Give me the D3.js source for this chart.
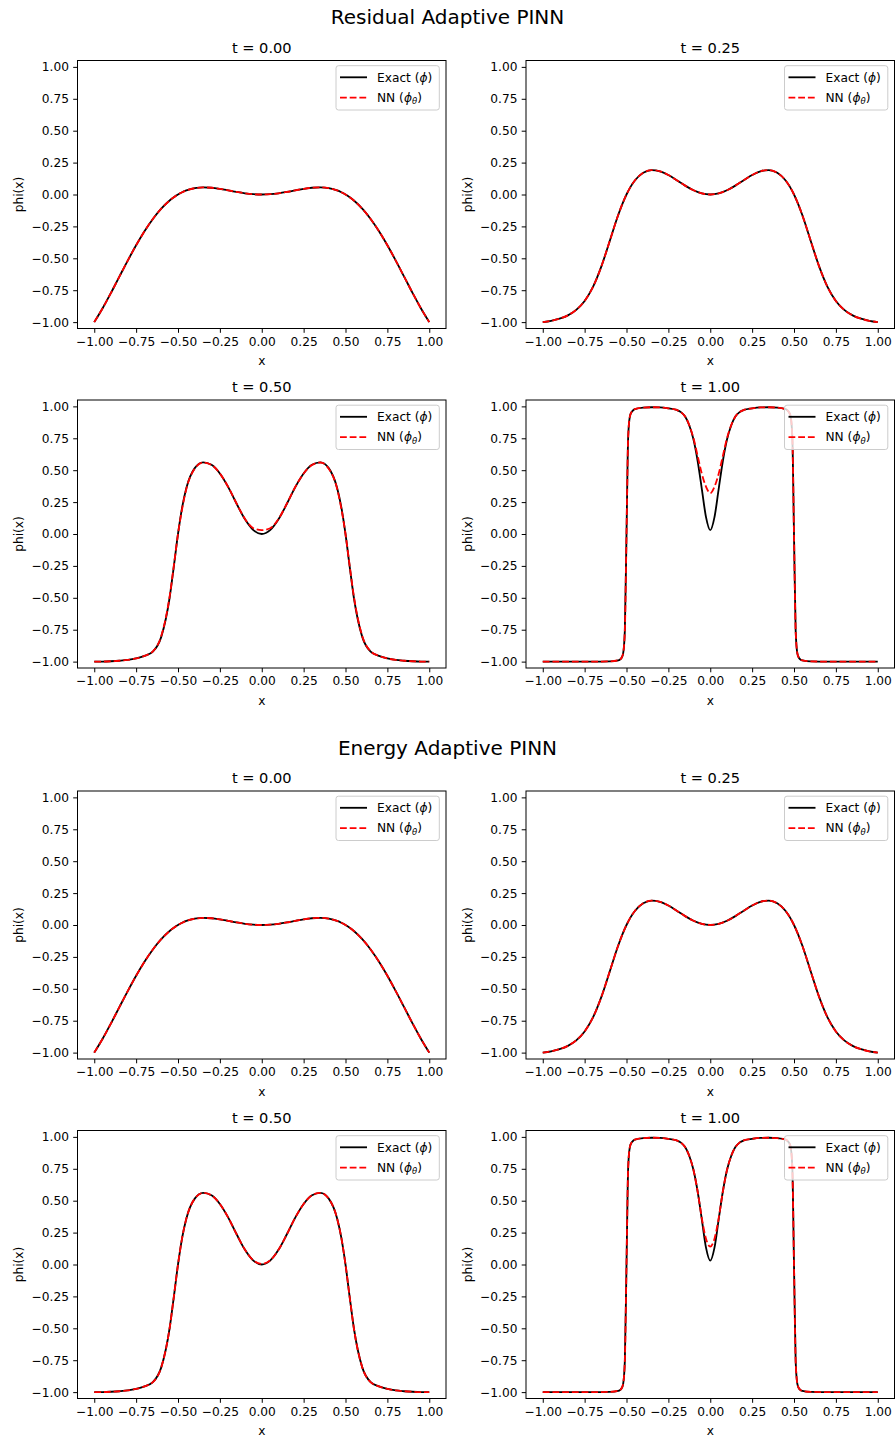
<!DOCTYPE html>
<html>
<head>
<meta charset="utf-8">
<script src="https://cdn.jsdelivr.net/npm/d3@7"></script>
<style>
  body { margin: 0; background: #fff; }
  text { font-family: "DejaVu Sans", sans-serif; fill: #000; }
</style>
</head>
<body>
<div id="chart"></div>
<script>
// ---- data ----
const figureTitles = ["Residual Adaptive PINN", "Energy Adaptive PINN"];
const timeLabels = ["t = 0.00", "t = 0.25", "t = 0.50", "t = 1.00"];
const legendLabels = ["Exact", "NN"];
const xTicks = [-1, -0.75, -0.5, -0.25, 0, 0.25, 0.5, 0.75, 1];
const yTicks = [-1, -0.75, -0.5, -0.25, 0, 0.25, 0.5, 0.75, 1];

const xSmooth = [-1, -0.95, -0.9, -0.85, -0.8, -0.75, -0.7, -0.65, -0.6, -0.55, -0.525, -0.5, -0.475, -0.45, -0.4, -0.35, -0.3, -0.25, -0.2, -0.15, -0.1, -0.05,
  0, 0.05, 0.1, 0.15, 0.2, 0.25, 0.3, 0.35, 0.4, 0.45, 0.475, 0.5, 0.525, 0.55, 0.6, 0.65, 0.7, 0.75, 0.8, 0.85, 0.9, 0.95, 1];

const exactT000 = [-1, -0.8914, -0.7704, -0.6437, -0.5178, -0.3977, -0.288, -0.1918, -0.1112, -0.0473, -0.0216, 0, 0.0177, 0.0317, 0.0494, 0.0556, 0.0529, 0.0442, 0.0324, 0.020, 0.0095, 0.0025,
  0, 0.0025, 0.0095, 0.020, 0.0324, 0.0442, 0.0529, 0.0556, 0.0494, 0.0317, 0.0177, 0, -0.0216, -0.0473, -0.1112, -0.1918, -0.288, -0.3977, -0.5178, -0.6437, -0.7704, -0.8914, -1];

const exactT025 = [-1, -0.9896, -0.973, -0.9467, -0.904, -0.834, -0.724, -0.5635, -0.3638, -0.1631, -0.0755, 0, 0.0618, 0.11, 0.1701, 0.1908, 0.1818, 0.1526, 0.1124, 0.0696, 0.0332, 0.0086,
  0, 0.0086, 0.0332, 0.0696, 0.1124, 0.1526, 0.1818, 0.1908, 0.1701, 0.11, 0.0618, 0, -0.0755, -0.1631, -0.3638, -0.5635, -0.724, -0.834, -0.904, -0.9467, -0.973, -0.9896, -1];

const exactT050 = [-1, -0.9995, -0.997, -0.993, -0.987, -0.975, -0.955, -0.9218, -0.806, -0.4996, -0.2548, 0, 0.2109, 0.3603, 0.516, 0.5613, 0.5421, 0.4744, 0.3673, 0.2367, 0.1149, 0.0301,
  0, 0.0301, 0.1149, 0.2367, 0.3673, 0.4744, 0.5421, 0.5613, 0.516, 0.3603, 0.2109, 0, -0.2548, -0.4996, -0.806, -0.9218, -0.955, -0.975, -0.987, -0.993, -0.997, -0.9995, -1];

const residualNnT050 = [-1, -0.9995, -0.997, -0.993, -0.987, -0.975, -0.955, -0.92, -0.8, -0.49, -0.25, 0, 0.2, 0.355, 0.512, 0.56, 0.541, 0.474, 0.368, 0.238, 0.118, 0.045,
  0.03, 0.045, 0.118, 0.238, 0.368, 0.474, 0.541, 0.56, 0.512, 0.355, 0.2, 0, -0.25, -0.49, -0.8, -0.92, -0.955, -0.975, -0.987, -0.993, -0.997, -0.9995, -1];

const energyNnT050 = [-1, -0.9995, -0.997, -0.993, -0.987, -0.975, -0.955, -0.9218, -0.806, -0.4996, -0.2548, 0, 0.2109, 0.3603, 0.516, 0.5613, 0.5421, 0.4744, 0.3673, 0.2367, 0.1149, 0.032,
  0.005, 0.032, 0.1149, 0.2367, 0.3673, 0.4744, 0.5421, 0.5613, 0.516, 0.3603, 0.2109, 0, -0.2548, -0.4996, -0.806, -0.9218, -0.955, -0.975, -0.987, -0.993, -0.997, -0.9995, -1];

const xSharp = [-1, -0.9, -0.8, -0.7, -0.6, -0.55, -0.54, -0.53, -0.52, -0.51, -0.5, -0.49, -0.48, -0.47, -0.46, -0.45, -0.4, -0.35, -0.3, -0.25, -0.2, -0.175, -0.15, -0.125, -0.1, -0.075, -0.05, -0.025,
  0, 0.025, 0.05, 0.075, 0.1, 0.125, 0.15, 0.175, 0.2, 0.25, 0.3, 0.35, 0.4, 0.45, 0.46, 0.47, 0.48, 0.49, 0.5, 0.51, 0.52, 0.53, 0.54, 0.55, 0.6, 0.7, 0.8, 0.9, 1];

const exactT100 = [-1, -1, -1, -1, -0.998, -0.99, -0.985, -0.972, -0.935, -0.76, 0, 0.76, 0.92, 0.955, 0.97, 0.978, 0.99, 0.993, 0.992, 0.985, 0.972, 0.955, 0.92, 0.85, 0.74, 0.57, 0.35, 0.13,
  0.03, 0.13, 0.35, 0.57, 0.74, 0.85, 0.92, 0.955, 0.972, 0.985, 0.992, 0.993, 0.99, 0.978, 0.97, 0.955, 0.92, 0.76, 0, -0.76, -0.935, -0.972, -0.985, -0.99, -0.998, -1, -1, -1, -1];

const residualNnT100 = [-1, -1, -1, -1, -0.998, -0.99, -0.985, -0.972, -0.935, -0.76, 0, 0.76, 0.92, 0.955, 0.97, 0.978, 0.99, 0.993, 0.992, 0.985, 0.972, 0.955, 0.92, 0.852, 0.75, 0.61, 0.47, 0.37,
  0.32, 0.37, 0.47, 0.61, 0.75, 0.852, 0.92, 0.955, 0.972, 0.985, 0.992, 0.993, 0.99, 0.978, 0.97, 0.955, 0.92, 0.76, 0, -0.76, -0.935, -0.972, -0.985, -0.99, -0.998, -1, -1, -1, -1];

const energyNnT100 = [-1, -1, -1, -1, -0.998, -0.99, -0.985, -0.972, -0.935, -0.76, 0, 0.76, 0.92, 0.955, 0.97, 0.978, 0.99, 0.993, 0.992, 0.985, 0.972, 0.955, 0.92, 0.85, 0.74, 0.57, 0.36, 0.2,
  0.14, 0.2, 0.36, 0.57, 0.74, 0.85, 0.92, 0.955, 0.972, 0.985, 0.992, 0.993, 0.99, 0.978, 0.97, 0.955, 0.92, 0.76, 0, -0.76, -0.935, -0.972, -0.985, -0.99, -0.998, -1, -1, -1, -1];

// one entry per panel: [x grid, exact, residual NN, energy NN]
const panels = [
  [xSmooth, exactT000, exactT000, exactT000],
  [xSmooth, exactT025, exactT025, exactT025],
  [xSmooth, exactT050, residualNnT050, energyNnT050],
  [xSharp, exactT100, residualNnT100, energyNnT100]
];

// ---- layout ----
const width = 895, height = 1437;
const colLeft = [77.5, 526], panelW = 368.5, panelH = 268;
const figTop = [60.5, 791], rowStep = 339.5;
const figTitleY = [24, 755];
const tickFont = "12.2px", lw = 1.83;

let svg = d3.select("#chart")
    .append("svg")
    .attr("width", width)
    .attr("height", height);

let fmt = d3.format(".2f");

figureTitles.forEach(function(title, f) {
    svg.append("text")
        .attr("x", width / 2)
        .attr("y", figTitleY[f])
        .style("text-anchor", "middle")
        .style("font-size", "20px")
        .text(title);

    panels.forEach(function(p, i) {
        let left = colLeft[i % 2];
        let top = figTop[f] + Math.floor(i / 2) * rowStep;
        let g = svg.append("g");

        let x = d3.scaleLinear().domain([-1.1, 1.1]).range([left, left + panelW]);
        let y = d3.scaleLinear().domain([-1.05, 1.05]).range([top + panelH, top]);

        let clipId = `clip-${f}-${i}`;
        svg.append("clipPath").attr("id", clipId)
            .append("rect")
            .attr("x", left).attr("y", top)
            .attr("width", panelW).attr("height", panelH);

        let xAxis = g.append("g")
            .attr("transform", `translate(0,${top + panelH})`)
            .call(d3.axisBottom(x).tickValues(xTicks).tickFormat(fmt).tickSize(4.3).tickPadding(4.3));
        let yAxis = g.append("g")
            .attr("transform", `translate(${left},0)`)
            .call(d3.axisLeft(y).tickValues(yTicks).tickFormat(fmt).tickSize(4.3).tickPadding(4.3));
        [xAxis, yAxis].forEach(function(a) {
            a.attr("font-family", null).attr("font-size", null);
            a.select(".domain").remove();
            a.selectAll("line").attr("stroke", "#000").attr("stroke-width", 1);
            a.selectAll("text").style("font-size", tickFont).attr("fill", "#000");
        });

        let line = d3.line()
            .x(function(d, k) { return x(p[0][k]); })
            .y(function(d) { return y(d); })
            .curve(d3.curveMonotoneX);

        let plot = g.append("g").attr("clip-path", `url(#${clipId})`);
        plot.append("path")
            .attr("d", line(p[1]))
            .attr("fill", "none")
            .attr("stroke", "#000")
            .attr("stroke-width", lw);
        plot.append("path")
            .attr("d", line(p[2 + f]))
            .attr("fill", "none")
            .attr("stroke", "#ff0000")
            .attr("stroke-width", lw)
            .attr("stroke-dasharray", "6.8,2.9");

        g.append("rect")
            .attr("x", left).attr("y", top)
            .attr("width", panelW).attr("height", panelH)
            .attr("fill", "none")
            .attr("stroke", "#000")
            .attr("stroke-width", 1);

        g.append("text")
            .attr("x", left + panelW / 2)
            .attr("y", top - 8)
            .style("text-anchor", "middle")
            .style("font-size", "14.6px")
            .text(timeLabels[i]);

        g.append("text")
            .attr("x", left + panelW / 2)
            .attr("y", top + panelH + 32.5)
            .attr("dy", "0.35em")
            .style("text-anchor", "middle")
            .style("font-size", tickFont)
            .text("x");

        g.append("text")
            .attr("transform", `translate(${left - 58.5},${top + panelH / 2}) rotate(-90)`)
            .attr("dy", "0.35em")
            .style("text-anchor", "middle")
            .style("font-size", tickFont)
            .text("phi(x)");

        // legend
        let lx = left + panelW - 6.7 - 103.3, ly = top + 5.2;
        let leg = g.append("g");
        leg.append("rect")
            .attr("x", lx).attr("y", ly)
            .attr("width", 103.3).attr("height", 44.3)
            .attr("rx", 2.5)
            .attr("fill", "#fff").attr("fill-opacity", 0.8)
            .attr("stroke", "#cccccc").attr("stroke-width", 1);
        legendLabels.forEach(function(lab, k) {
            let ry = ly + 11.6 + k * 20.4;
            leg.append("line")
                .attr("x1", lx + 4).attr("x2", lx + 31)
                .attr("y1", ry).attr("y2", ry)
                .attr("stroke", k === 0 ? "#000" : "#ff0000")
                .attr("stroke-width", lw)
                .attr("stroke-dasharray", k === 0 ? null : "6.8,2.9");
            let t = leg.append("text")
                .attr("x", lx + 41).attr("y", ry)
                .attr("dy", "0.35em")
                .style("font-size", tickFont);
            t.append("tspan").text(lab + " (");
            t.append("tspan").style("font-style", "italic").text("\u03D5");
            if (k === 1) {
                t.append("tspan").style("font-style", "italic").style("font-size", "8.5px")
                    .attr("dy", 2.5).text("\u03B8");
                t.append("tspan").attr("dy", -2.5).text(")");
            } else {
                t.append("tspan").text(")");
            }
        });
    });
});
</script>
</body>
</html>
